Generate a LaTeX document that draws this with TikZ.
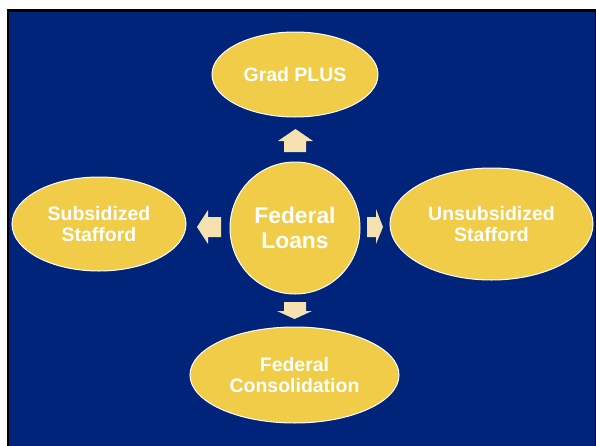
\documentclass[tikz,border=0pt]{standalone}
\usepackage{fontspec}
\setmainfont{Liberation Sans}
\usetikzlibrary{shapes.geometric}
\definecolor{slidebg}{RGB}{0,36,122}
\definecolor{loanfill}{RGB}{240,204,72}
\definecolor{arrowfill}{RGB}{246,226,176}
\tikzset{loan/.style={ellipse, draw=white, line width=0.75pt, fill=loanfill, inner sep=0pt, text=white, align=center, font=\bfseries\fontsize{14.6}{15.75}\selectfont}}
\begin{document}
\begin{tikzpicture}[x=0.75pt,y=0.75pt,yscale=-1,xscale=1]
\useasboundingbox (0,0) rectangle (596,446);
%Shape: Rectangle (slide frame)
\fill [black] (6.5,9) rectangle (596,446);
\fill [slidebg] (9,11.5) rectangle (594.5,446);

%Shape: Ellipses
\node [loan, minimum width=124.5pt, minimum height=63.75pt] (grad) at (295,74.5) {Grad PLUS};
\node [loan, minimum width=97.5pt, minimum height=99pt, font=\bfseries\fontsize{17.1}{18.75}\selectfont] (federal) at (295,228) {Federal\\Loans};
\node [loan, minimum width=130.5pt, minimum height=70.5pt] (sub) at (99,224) {Subsidized\\Stafford};
\node [loan, minimum width=152.25pt, minimum height=84pt] (unsub) at (491.5,224) {Unsubsidized\\Stafford};
\node [loan, minimum width=156.75pt, minimum height=72pt] (consol) at (294.5,375) {Federal\\Consolidation};

%Shape: Up Arrow
\fill [arrowfill] (295.5,129) -- (313,141) -- (306,141) -- (306,152) -- (284,152) -- (284,141) -- (278,141) -- cycle ;
%Shape: Left Arrow
\fill [arrowfill] (197,227) -- (208,210) -- (208,217) -- (221,217) -- (221,237) -- (208,237) -- (208,244) -- cycle ;
%Shape: Right Arrow
\fill [arrowfill] (383,227) -- (376,244) -- (376,237) -- (367,237) -- (367,217) -- (376,217) -- (376,209) -- cycle ;
%Shape: Down Arrow
\fill [arrowfill] (294.5,319) -- (277,311) -- (284,311) -- (284,302) -- (306,302) -- (306,311) -- (312,311) -- cycle ;
\end{tikzpicture}
\end{document}
